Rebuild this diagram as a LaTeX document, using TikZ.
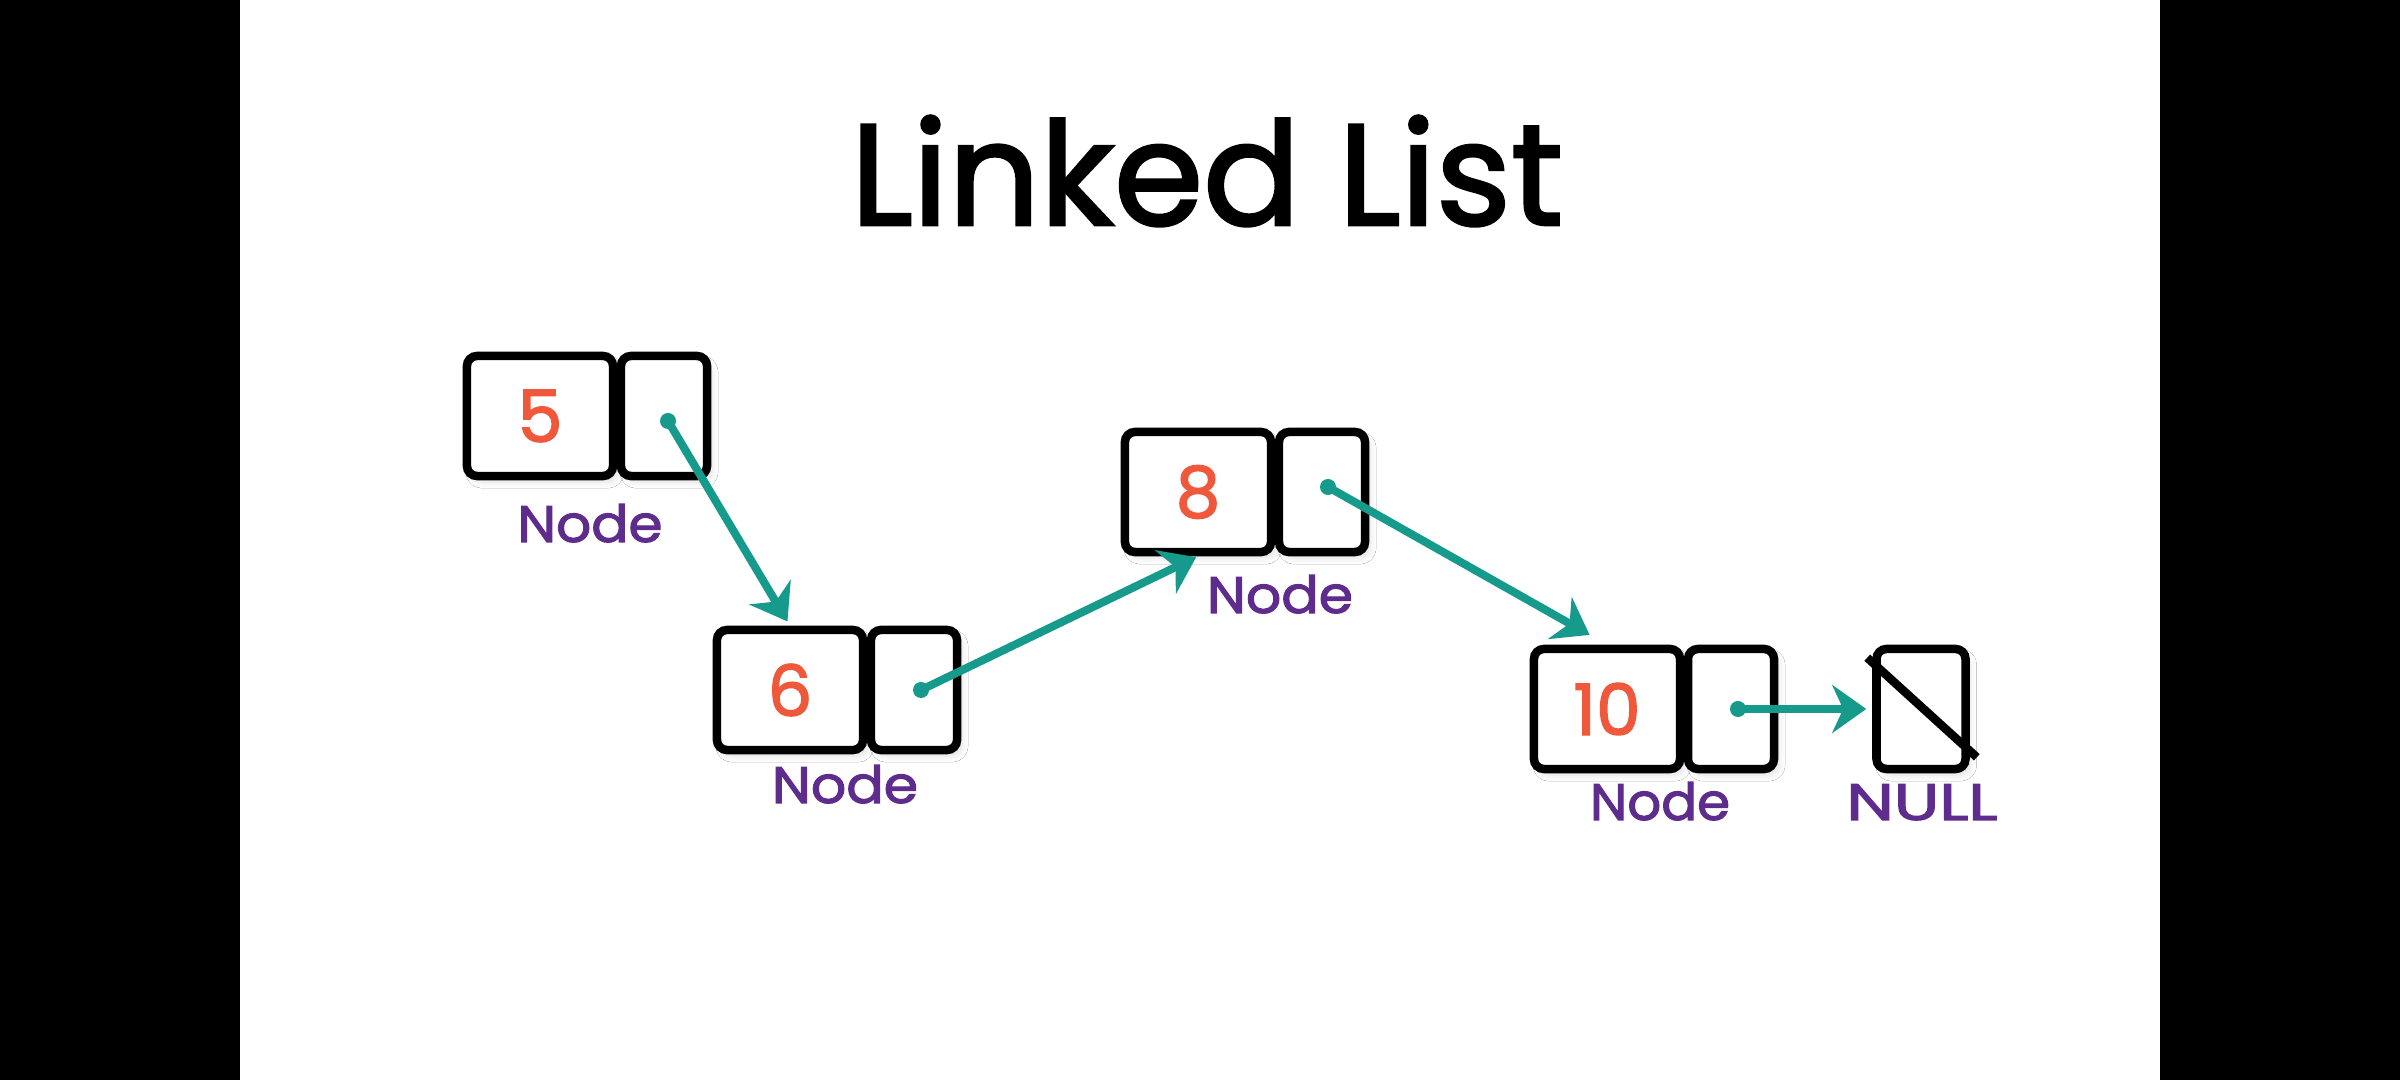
\documentclass[tikz,border=0pt]{standalone}
\usepackage{fontspec}
\usepackage{graphicx}
\newfontfamily\popfont[FakeBold=2]{Poppins}
\usetikzlibrary{arrows.meta,calc,shadows.blur}
\definecolor{tealc}{RGB}{22,154,139}
\definecolor{numred}{RGB}{240,88,60}
\definecolor{lblpurple}{RGB}{94,44,140}
\newcommand\numtxt[1]{\resizebox{!}{0.52cm}{\popfont #1}}
\newcommand\lbltxt[2]{\resizebox{#1}{\height}{\popfont\fontsize{14.6pt}{15pt}\selectfont #2}}
\begin{document}
\begin{tikzpicture}[x=0.01cm,y=-0.01cm,
  cellbox/.style={draw=black,fill=white,line width=0.085cm,rounded corners=0.1cm,
    minimum height=1.2cm,inner sep=0pt,
    blur shadow={shadow xshift=0.05cm,shadow yshift=-0.06cm,shadow opacity=12,shadow blur steps=10}},
  databox/.style={cellbox,minimum width=1.46cm},
  ptrbox/.style={cellbox,minimum width=0.86cm},
  nullbox/.style={cellbox,minimum width=0.89cm},
  numlbl/.style={text=numred,inner sep=0pt,anchor=center},
  namelbl/.style={text=lblpurple,inner sep=0pt,anchor=base},
  link/.style={draw=tealc,line width=0.08cm,-{Stealth[length=0.34cm,width=0.48cm,inset=0.11cm]}},
  ptrdot/.style={circle,fill=tealc,inner sep=0pt,minimum size=0.16cm}
]
\useasboundingbox (0,0) rectangle (2400,1080);
\fill[black] (0,0) rectangle (2400,1080);
\fill[white] (240,0) rectangle (2160,1080);

% title
\node[anchor=base,inner sep=0pt] (title) at (1207,225) {\resizebox{7.12cm}{!}{\popfont Linked List}};

% node 5
\node[databox] (d5) at (540,416) {};
\node[ptrbox] (q5) at (664,416) {};
\node[numlbl] (v5) at (d5.center) {\numtxt{5}};
\node[namelbl] (l5) at (590,542) {\lbltxt{1.45cm}{Node}};
\node[ptrdot] (p5) at (668,421) {};

% node 6
\node[databox] (d6) at (790,690) {};
\node[ptrbox] (q6) at (914,690) {};
\node[numlbl] (v6) at (d6.center) {\numtxt{6}};
\node[namelbl] (l6) at (845,803) {\lbltxt{1.46cm}{Node}};
\node[ptrdot] (p6) at (921,690) {};

% node 8
\node[databox] (d8) at (1198,492) {};
\node[ptrbox] (q8) at (1322,492) {};
\node[numlbl] (v8) at (d8.center) {\numtxt{8}};
\node[namelbl] (l8) at (1280,613) {\lbltxt{1.46cm}{Node}};
\node[ptrdot] (p8) at (1328,487) {};

% node 10
\node[databox] (d10) at (1607,709) {};
\node[ptrbox] (q10) at (1731,709) {};
\node[numlbl] (v10) at (d10.center) {\numtxt{10}};
\node[namelbl] (l10) at (1660,820) {\lbltxt{1.40cm}{Node}};
\node[ptrdot] (p10) at (1738,709) {};

% null
\node[nullbox] (nul) at (1921,709) {};
\draw[line width=0.085cm] ($(nul.north west)+(-5,13)$) -- ($(nul.south east)+(7,-16)$);
\node[namelbl] (lnull) at (1922,820) {\lbltxt{1.51cm}{NULL}};

% links
\draw[link,shorten >=0.05cm] (p5.center) -- (d6.north);
\draw[link,shorten >=0.02cm] (p6.center) -- (d8.south);
\draw[link,shorten >=0.2cm] (p8.center) -- (d10.north);
\draw[link,shorten >=0.06cm] (p10.center) -- (nul.west);
\end{tikzpicture}
\end{document}
